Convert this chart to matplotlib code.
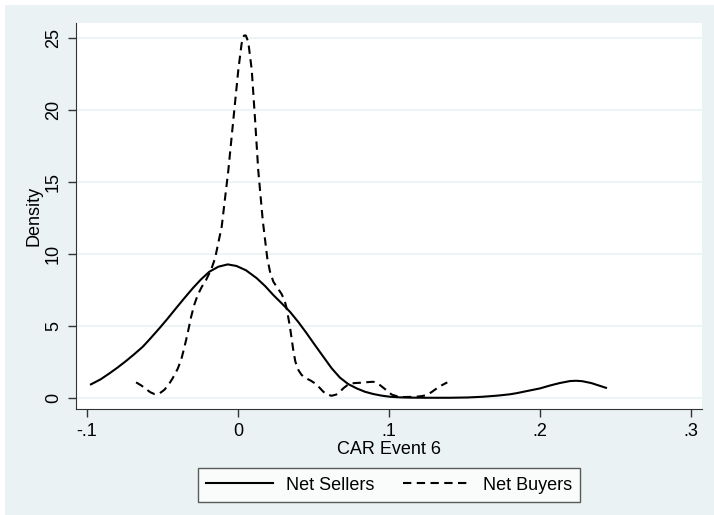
import numpy as np
import matplotlib
matplotlib.use("Agg")
from matplotlib import pyplot as plt
from matplotlib.patches import Rectangle

# Net Sellers kernel density
sell_x = [-0.0974, -0.091, -0.0852, -0.080, -0.0742, -0.069, -0.0631, -0.058,
          -0.0521, -0.047, -0.0411, -0.0355, -0.0300, -0.0245, -0.0190, -0.0130,
          -0.0068, -0.0010, 0.0053, 0.0124, 0.018, 0.0234, 0.029, 0.0344,
          0.040, 0.0455, 0.051, 0.0565, 0.062, 0.0675, 0.073, 0.0786,
          0.084, 0.0896, 0.095, 0.1007, 0.107, 0.114, 0.125, 0.14,
          0.152, 0.162, 0.172, 0.180, 0.1846, 0.192, 0.2, 0.2066,
          0.213, 0.2199, 0.224, 0.228, 0.234, 0.2437]
sell_y = [0.93, 1.28, 1.69, 2.08, 2.55, 3.0, 3.54, 4.12,
          4.82, 5.45, 6.21, 6.92, 7.60, 8.22, 8.75, 9.10,
          9.26, 9.15, 8.85, 8.30, 7.75, 7.13, 6.55, 5.97,
          5.25, 4.47, 3.65, 2.85, 2.05, 1.40, 0.95, 0.65,
          0.42, 0.26, 0.15, 0.07, 0.03, 0.01, 0.0, 0.0,
          0.02, 0.07, 0.15, 0.24, 0.32, 0.48, 0.65, 0.85,
          1.02, 1.16, 1.18, 1.15, 1.02, 0.69]

# Net Buyers kernel density
buy_x = [-0.0675, -0.064, -0.0609, -0.058, -0.0554, -0.052, -0.0488, -0.046,
         -0.0433, -0.040, -0.0377, -0.036, -0.0344, -0.0327, -0.0311, -0.029,
         -0.0267, -0.024, -0.0212, -0.0179, -0.0152, -0.0108, -0.0064, -0.0031,
         0.0002, 0.0024, 0.0040, 0.0052, 0.0068, 0.0091, 0.0113, 0.0134,
         0.0164, 0.0194, 0.0212, 0.0234, 0.026, 0.0289, 0.031, 0.0322,
         0.0344, 0.0366, 0.038, 0.0400, 0.042, 0.0444, 0.048, 0.0510,
         0.054, 0.0565, 0.059, 0.0620, 0.065, 0.0675, 0.070, 0.0731,
         0.077, 0.0808, 0.085, 0.0896, 0.092, 0.0940, 0.0974, 0.1018,
         0.106, 0.110, 0.118, 0.122, 0.125, 0.128, 0.1316, 0.135, 0.1386]
buy_y = [1.07, 0.85, 0.60, 0.38, 0.26, 0.30, 0.55, 0.90,
         1.35, 2.0, 2.62, 3.3, 4.0, 4.8, 5.6, 6.45,
         7.13, 7.7, 8.17, 8.87, 9.68, 11.88, 15.8, 19.3,
         22.76, 24.6, 25.15, 25.15, 24.7, 22.76, 19.3, 15.8,
         12.3, 9.68, 8.75, 8.06, 7.65, 7.2, 6.7, 6.21,
         4.93, 3.31, 2.5, 1.92, 1.6, 1.39, 1.2, 1.0,
         0.7, 0.42, 0.22, 0.14, 0.22, 0.42, 0.68, 0.93,
         1.02, 1.04, 1.08, 1.11, 1.02, 0.88, 0.60, 0.22,
         0.08, 0.05, 0.07, 0.12, 0.19, 0.38, 0.65, 0.87, 1.07]

xticks = [-0.1, 0, 0.1, 0.2, 0.3]
xticklabels = ['-.1', '0', '.1', '.2', '.3']
yticks = [0, 5, 10, 15, 20, 25]

bg = '#eaf2f3'
plt.rcParams['font.family'] = ['Liberation Sans', 'DejaVu Sans']

W, H = 714, 515
fig = plt.figure(figsize=(W/100, H/100), dpi=100, facecolor='white')
fig.patches.append(Rectangle((5/W, 0), 1 - 5/W, 1 - 5/H, transform=fig.transFigure,
                             facecolor=bg, edgecolor='none', zorder=-10))

ax = fig.add_axes([76/W, 1 - 409/H, (702-76)/W, (409-23)/H])
ax.set_facecolor('white')

ax.plot(sell_x, sell_y, '-', color='black', lw=1.5, label='Net Sellers',
        solid_joinstyle='round')
ax.plot(buy_x, buy_y, '--', color='black', lw=1.5, dashes=(4, 2.6), label='Net Buyers')

ax.set_xlim(-0.1073, 0.3073)
ax.set_ylim(-0.78, 26.02)
ax.set_xticks(xticks)
ax.set_xticklabels(xticklabels)
ax.set_yticks(yticks)
ax.set_yticklabels([str(v) for v in yticks], rotation=90, va='center')
ax.tick_params(labelsize=13, length=6, width=1, color='#333333', pad=4)
ax.grid(axis='y', color=bg, lw=1.2)
ax.set_axisbelow(True)
for s in ['top', 'right']:
    ax.spines[s].set_visible(False)
for s in ['left', 'bottom']:
    ax.spines[s].set_color('#333333')
ax.set_xlabel('CAR Event 6', fontsize=13, labelpad=1)
ax.set_ylabel('Density', fontsize=13, labelpad=2)

leg = fig.legend(loc='center', bbox_to_anchor=(389/W, 1 - 485/H), ncol=2,
                 fontsize=13, frameon=True, fancybox=False, edgecolor='#333333',
                 handlelength=3.7, columnspacing=1.6, borderpad=0.45,
                 handletextpad=0.7, borderaxespad=0)
leg.get_frame().set_linewidth(1)

fig.savefig('out.png', dpi=100, facecolor=fig.get_facecolor())
